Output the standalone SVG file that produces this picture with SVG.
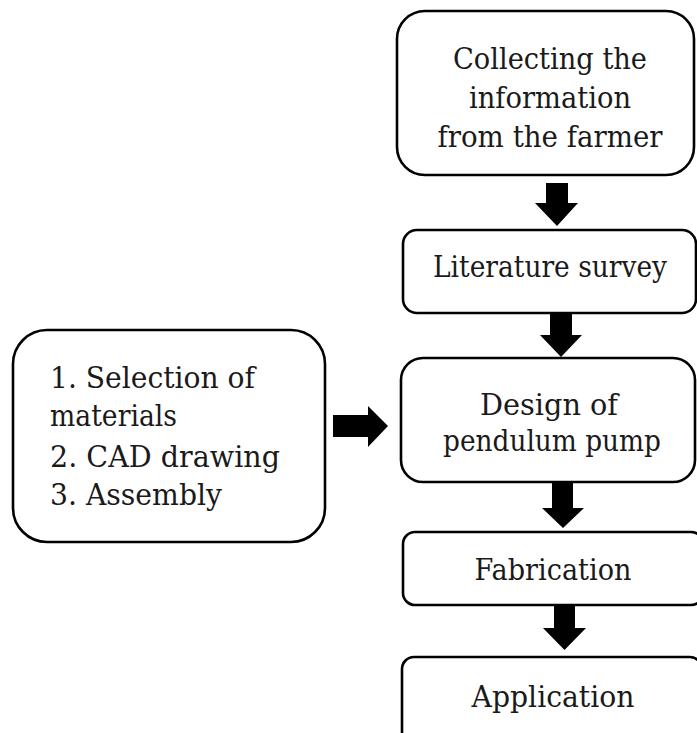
<svg xmlns="http://www.w3.org/2000/svg" width="697" height="733" viewBox="0 0 697 733">
<style>
.box{fill:#fff;stroke:#000;stroke-width:2.6}
.t{font-family:'DejaVu Serif','Noto Serif','Liberation Serif',serif;font-size:29.5px;fill:#1a1a1a}
.c{text-anchor:middle}
.arr{fill:#000}
</style>
<rect width="697" height="733" fill="#fff"/>
<g id="node-collect">
<rect class="box" x="397" y="11" width="297" height="164" rx="28"/>
<text class="t c" x="550" y="69" textLength="194" lengthAdjust="spacingAndGlyphs">Collecting the</text>
<text class="t c" x="550" y="108" textLength="162" lengthAdjust="spacingAndGlyphs">information</text>
<text class="t c" x="550" y="147" textLength="225" lengthAdjust="spacingAndGlyphs">from the farmer</text>
</g>
<g id="node-literature">
<rect class="box" x="403" y="230" width="293" height="83" rx="14"/>
<text class="t c" x="550" y="277" textLength="234" lengthAdjust="spacingAndGlyphs">Literature survey</text>
</g>
<g id="node-design">
<rect class="box" x="401" y="358" width="294" height="124" rx="22"/>
<text class="t c" x="549" y="415" textLength="138" lengthAdjust="spacingAndGlyphs">Design of</text>
<text class="t c" x="552" y="451" textLength="218" lengthAdjust="spacingAndGlyphs">pendulum pump</text>
</g>
<g id="node-fabrication">
<rect class="box" x="403" y="532" width="300" height="73" rx="12"/>
<text class="t c" x="553" y="580" textLength="157" lengthAdjust="spacingAndGlyphs">Fabrication</text>
</g>
<g id="node-application">
<rect class="box" x="402" y="657" width="300" height="90" rx="12"/>
<text class="t c" x="553" y="707" textLength="163" lengthAdjust="spacingAndGlyphs">Application</text>
</g>
<g id="node-steps">
<rect class="box" x="13" y="330" width="312" height="212" rx="34"/>
<text class="t" x="50" y="388" textLength="205" lengthAdjust="spacingAndGlyphs">1. Selection of</text>
<text class="t" x="50" y="426" textLength="127" lengthAdjust="spacingAndGlyphs">materials</text>
<text class="t" x="50" y="467" textLength="230" lengthAdjust="spacingAndGlyphs">2. CAD drawing</text>
<text class="t" x="50" y="505" textLength="172" lengthAdjust="spacingAndGlyphs">3. Assembly</text>
</g>
<g id="connectors">
<polygon class="arr" points="546,183 568,183 568,203 578,203 557,226 535,203 546,203"/>
<polygon class="arr" points="550,313 572,313 572,335 582,335 561,357 540,335 550,335"/>
<polygon class="arr" points="552,483 573,483 573,508 584,508 563,528 542,508 552,508"/>
<polygon class="arr" points="554,605 575,605 575,628 586,628 564.5,650 543,628 554,628"/>
<polygon class="arr" points="333,415 368,415 368,406 388,426 368,447 368,437 333,437"/>
</g>
</svg>
